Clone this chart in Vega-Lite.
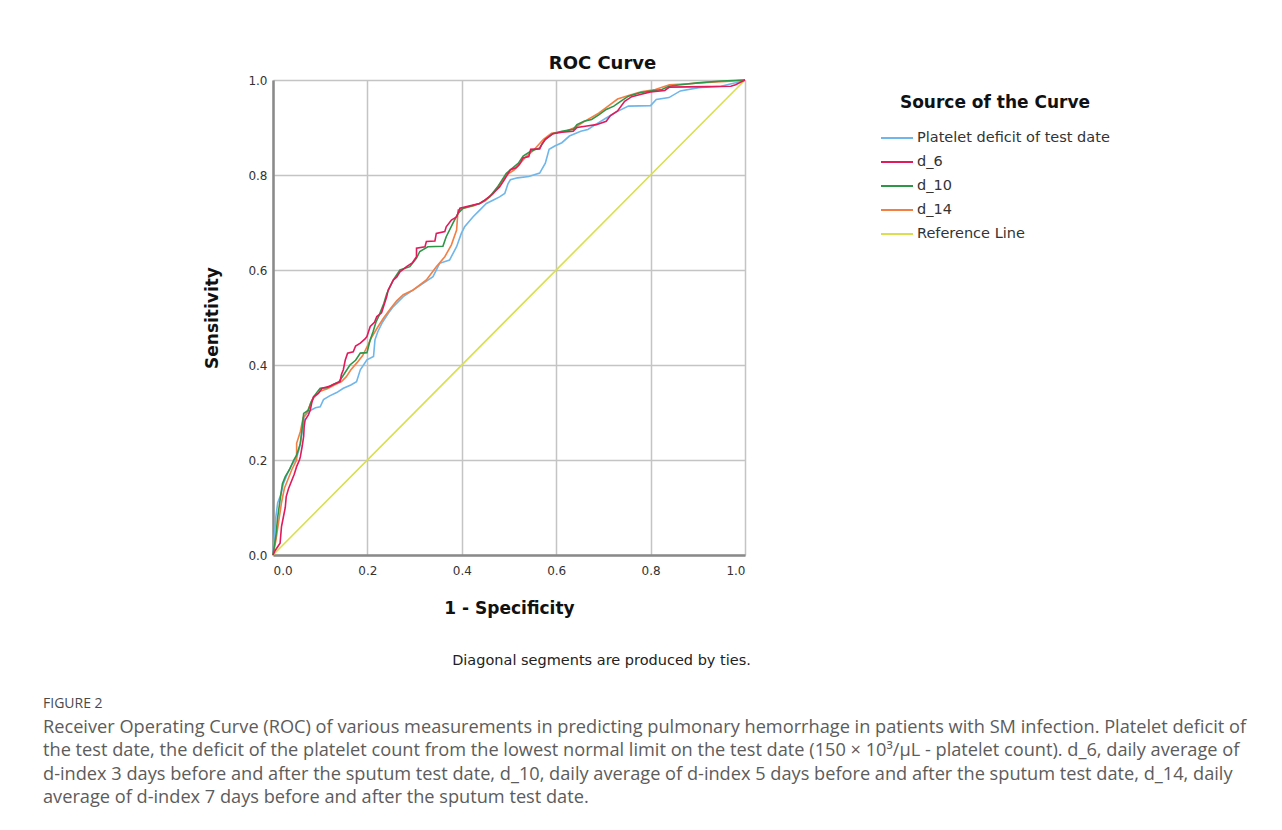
{
 "$schema": "https://vega.github.io/schema/vega-lite/v6.json",
 "width": 472, "height": 475,
 "autosize": {"type": "none"},
 "padding": {"left": 273, "top": 80, "right": 537, "bottom": 275},
 "background": "white",
 "datasets": {
  "ref": [{"x":0,"y":0},{"x":1,"y":1}],
  "plt": [{"x":0,"y":0},{"x":0.003,"y":0.04},{"x":0.006,"y":0.08},{"x":0.01,"y":0.11},{"x":0.016,"y":0.125},{"x":0.022,"y":0.15},{"x":0.03,"y":0.17},{"x":0.04,"y":0.19},{"x":0.05,"y":0.205},{"x":0.056,"y":0.225},{"x":0.062,"y":0.26},{"x":0.066,"y":0.29},{"x":0.075,"y":0.302},{"x":0.09,"y":0.31},{"x":0.1,"y":0.312},{"x":0.107,"y":0.327},{"x":0.12,"y":0.335},{"x":0.135,"y":0.342},{"x":0.149,"y":0.351},{"x":0.165,"y":0.358},{"x":0.177,"y":0.365},{"x":0.185,"y":0.39},{"x":0.199,"y":0.411},{"x":0.213,"y":0.418},{"x":0.216,"y":0.453},{"x":0.222,"y":0.47},{"x":0.232,"y":0.49},{"x":0.245,"y":0.51},{"x":0.255,"y":0.523},{"x":0.276,"y":0.544},{"x":0.297,"y":0.558},{"x":0.318,"y":0.572},{"x":0.339,"y":0.586},{"x":0.353,"y":0.614},{"x":0.374,"y":0.621},{"x":0.389,"y":0.649},{"x":0.399,"y":0.677},{"x":0.406,"y":0.691},{"x":0.424,"y":0.712},{"x":0.438,"y":0.726},{"x":0.452,"y":0.74},{"x":0.466,"y":0.747},{"x":0.48,"y":0.754},{"x":0.491,"y":0.761},{"x":0.498,"y":0.782},{"x":0.503,"y":0.79},{"x":0.518,"y":0.794},{"x":0.542,"y":0.797},{"x":0.565,"y":0.804},{"x":0.577,"y":0.825},{"x":0.585,"y":0.854},{"x":0.597,"y":0.861},{"x":0.612,"y":0.868},{"x":0.628,"y":0.882},{"x":0.652,"y":0.892},{"x":0.667,"y":0.896},{"x":0.683,"y":0.906},{"x":0.706,"y":0.92},{"x":0.73,"y":0.934},{"x":0.753,"y":0.945},{"x":0.8,"y":0.946},{"x":0.812,"y":0.959},{"x":0.839,"y":0.963},{"x":0.863,"y":0.977},{"x":0.902,"y":0.984},{"x":0.949,"y":0.987},{"x":0.98,"y":0.994},{"x":1,"y":1}],
  "d6": [{"x":0,"y":0},{"x":0.005,"y":0.01},{"x":0.015,"y":0.025},{"x":0.018,"y":0.06},{"x":0.022,"y":0.08},{"x":0.026,"y":0.1},{"x":0.028,"y":0.123},{"x":0.033,"y":0.14},{"x":0.037,"y":0.15},{"x":0.045,"y":0.17},{"x":0.05,"y":0.186},{"x":0.056,"y":0.2},{"x":0.058,"y":0.207},{"x":0.062,"y":0.23},{"x":0.065,"y":0.25},{"x":0.066,"y":0.27},{"x":0.068,"y":0.284},{"x":0.075,"y":0.295},{"x":0.079,"y":0.305},{"x":0.082,"y":0.32},{"x":0.086,"y":0.333},{"x":0.096,"y":0.34},{"x":0.104,"y":0.351},{"x":0.12,"y":0.355},{"x":0.13,"y":0.36},{"x":0.142,"y":0.365},{"x":0.145,"y":0.38},{"x":0.149,"y":0.39},{"x":0.153,"y":0.41},{"x":0.158,"y":0.425},{"x":0.17,"y":0.428},{"x":0.175,"y":0.44},{"x":0.185,"y":0.446},{"x":0.195,"y":0.455},{"x":0.199,"y":0.46},{"x":0.206,"y":0.481},{"x":0.215,"y":0.49},{"x":0.22,"y":0.502},{"x":0.23,"y":0.51},{"x":0.241,"y":0.544},{"x":0.244,"y":0.558},{"x":0.255,"y":0.579},{"x":0.262,"y":0.585},{"x":0.269,"y":0.596},{"x":0.283,"y":0.607},{"x":0.295,"y":0.615},{"x":0.304,"y":0.628},{"x":0.3041,"y":0.646},{"x":0.322,"y":0.649},{"x":0.325,"y":0.66},{"x":0.343,"y":0.661},{"x":0.346,"y":0.677},{"x":0.364,"y":0.681},{"x":0.367,"y":0.691},{"x":0.378,"y":0.705},{"x":0.389,"y":0.712},{"x":0.396,"y":0.73},{"x":0.424,"y":0.737},{"x":0.438,"y":0.74},{"x":0.449,"y":0.747},{"x":0.466,"y":0.761},{"x":0.48,"y":0.775},{"x":0.49,"y":0.79},{"x":0.498,"y":0.803},{"x":0.503,"y":0.811},{"x":0.515,"y":0.815},{"x":0.522,"y":0.822},{"x":0.53,"y":0.836},{"x":0.542,"y":0.839},{"x":0.546,"y":0.854},{"x":0.565,"y":0.855},{"x":0.569,"y":0.864},{"x":0.577,"y":0.875},{"x":0.593,"y":0.887},{"x":0.612,"y":0.89},{"x":0.636,"y":0.892},{"x":0.644,"y":0.9},{"x":0.665,"y":0.903},{"x":0.685,"y":0.906},{"x":0.706,"y":0.913},{"x":0.715,"y":0.925},{"x":0.73,"y":0.935},{"x":0.745,"y":0.955},{"x":0.76,"y":0.965},{"x":0.78,"y":0.97},{"x":0.8,"y":0.975},{"x":0.83,"y":0.978},{"x":0.84,"y":0.985},{"x":0.92,"y":0.986},{"x":0.97,"y":0.987},{"x":0.98,"y":0.99},{"x":1,"y":1}],
  "d10": [{"x":0,"y":0},{"x":0.006,"y":0.04},{"x":0.01,"y":0.08},{"x":0.016,"y":0.123},{"x":0.02,"y":0.15},{"x":0.026,"y":0.165},{"x":0.035,"y":0.18},{"x":0.044,"y":0.2},{"x":0.05,"y":0.21},{"x":0.058,"y":0.235},{"x":0.062,"y":0.27},{"x":0.065,"y":0.298},{"x":0.075,"y":0.305},{"x":0.08,"y":0.32},{"x":0.086,"y":0.333},{"x":0.095,"y":0.345},{"x":0.1,"y":0.351},{"x":0.114,"y":0.352},{"x":0.125,"y":0.358},{"x":0.14,"y":0.365},{"x":0.15,"y":0.38},{"x":0.163,"y":0.4},{"x":0.175,"y":0.41},{"x":0.185,"y":0.425},{"x":0.199,"y":0.426},{"x":0.206,"y":0.453},{"x":0.212,"y":0.47},{"x":0.218,"y":0.49},{"x":0.225,"y":0.505},{"x":0.235,"y":0.53},{"x":0.241,"y":0.55},{"x":0.255,"y":0.579},{"x":0.269,"y":0.6},{"x":0.29,"y":0.607},{"x":0.304,"y":0.625},{"x":0.311,"y":0.639},{"x":0.328,"y":0.649},{"x":0.36,"y":0.65},{"x":0.367,"y":0.67},{"x":0.381,"y":0.698},{"x":0.392,"y":0.719},{"x":0.403,"y":0.73},{"x":0.438,"y":0.74},{"x":0.459,"y":0.754},{"x":0.476,"y":0.775},{"x":0.494,"y":0.803},{"x":0.503,"y":0.811},{"x":0.52,"y":0.825},{"x":0.53,"y":0.84},{"x":0.546,"y":0.85},{"x":0.565,"y":0.857},{"x":0.577,"y":0.875},{"x":0.593,"y":0.887},{"x":0.612,"y":0.892},{"x":0.636,"y":0.896},{"x":0.644,"y":0.906},{"x":0.659,"y":0.913},{"x":0.675,"y":0.917},{"x":0.691,"y":0.927},{"x":0.706,"y":0.938},{"x":0.722,"y":0.945},{"x":0.738,"y":0.956},{"x":0.753,"y":0.966},{"x":0.777,"y":0.973},{"x":0.8,"y":0.977},{"x":0.824,"y":0.98},{"x":0.839,"y":0.987},{"x":0.863,"y":0.99},{"x":0.9,"y":0.994},{"x":0.95,"y":0.998},{"x":1,"y":1}],
  "d14": [{"x":0,"y":0},{"x":0.006,"y":0.03},{"x":0.012,"y":0.07},{"x":0.018,"y":0.11},{"x":0.024,"y":0.14},{"x":0.032,"y":0.16},{"x":0.04,"y":0.18},{"x":0.05,"y":0.2},{"x":0.0501,"y":0.235},{"x":0.058,"y":0.26},{"x":0.064,"y":0.29},{"x":0.072,"y":0.3},{"x":0.082,"y":0.325},{"x":0.09,"y":0.335},{"x":0.1,"y":0.345},{"x":0.115,"y":0.35},{"x":0.13,"y":0.358},{"x":0.145,"y":0.365},{"x":0.155,"y":0.375},{"x":0.165,"y":0.39},{"x":0.178,"y":0.405},{"x":0.19,"y":0.42},{"x":0.2,"y":0.44},{"x":0.21,"y":0.46},{"x":0.222,"y":0.48},{"x":0.235,"y":0.5},{"x":0.25,"y":0.52},{"x":0.262,"y":0.535},{"x":0.276,"y":0.548},{"x":0.297,"y":0.558},{"x":0.325,"y":0.579},{"x":0.346,"y":0.607},{"x":0.364,"y":0.628},{"x":0.378,"y":0.653},{"x":0.389,"y":0.684},{"x":0.392,"y":0.726},{"x":0.403,"y":0.73},{"x":0.424,"y":0.735},{"x":0.449,"y":0.745},{"x":0.466,"y":0.76},{"x":0.48,"y":0.78},{"x":0.494,"y":0.8},{"x":0.51,"y":0.81},{"x":0.52,"y":0.82},{"x":0.535,"y":0.838},{"x":0.55,"y":0.85},{"x":0.573,"y":0.875},{"x":0.59,"y":0.888},{"x":0.62,"y":0.892},{"x":0.64,"y":0.9},{"x":0.66,"y":0.913},{"x":0.69,"y":0.93},{"x":0.71,"y":0.945},{"x":0.73,"y":0.96},{"x":0.755,"y":0.968},{"x":0.78,"y":0.975},{"x":0.81,"y":0.98},{"x":0.84,"y":0.99},{"x":0.88,"y":0.992},{"x":0.92,"y":0.995},{"x":0.96,"y":0.997},{"x":1,"y":1}]
 },
 "title": {
  "text": "FIGURE 2",
  "subtitle": [
   "Receiver Operating Curve (ROC) of various measurements in predicting pulmonary hemorrhage in patients with SM infection. Platelet deficit of",
   "the test date, the deficit of the platelet count from the lowest normal limit on the test date (150 × 10³/μL - platelet count). d_6, daily average of",
   "d-index 3 days before and after the sputum test date, d_10, daily average of d-index 5 days before and after the sputum test date, d_14, daily",
   "average of d-index 7 days before and after the sputum test date."
  ],
  "orient": "bottom", "anchor": "start", "frame": "group", "dx": -230, "offset": 30,
  "font": "Open Sans", "fontSize": 14, "fontWeight": "normal", "color": "#4a4a4a",
  "subtitleFont": "Open Sans", "subtitleFontSize": 18.2, "subtitleColor": "#5c5c5c",
  "subtitleLineHeight": 23.5, "subtitlePadding": 8
 },
 "encoding": {
  "y": {"field": "y", "type": "quantitative",
   "scale": {"domain": [0, 1], "nice": false, "zero": false},
   "axis": {"title": "Sensitivity", "values": [0, 0.2, 0.4, 0.6, 0.8, 1], "format": ".1f",
    "grid": true, "gridColor": "#c4c4c4", "gridWidth": 1.5,
    "domainColor": "#8a8a8a", "domainWidth": 2.5, "ticks": false,
    "labelPadding": 6, "labelFontSize": 12, "labelColor": "#333333",
    "titleFontSize": 17, "titleFontWeight": "bold", "titleColor": "#111111", "titlePadding": 26}},
  "order": {"field": "x", "type": "quantitative"}
 },
 "layer": [
  {
   "data": {"name": "ref"},
   "mark": {"type": "line", "strokeWidth": 1.6},
   "encoding": {
    "x": {"field": "x", "type": "quantitative", "scale": {"domain": [0, 1], "nice": false, "zero": false},
     "axis": {"orient": "top", "title": "ROC Curve", "labels": false, "ticks": false, "domain": false, "grid": false,
      "titleX": 329, "titleY": -17, "titleBaseline": "middle", "titleFontSize": 18, "titleFontWeight": "bold", "titleColor": "#111111"}},
    "color": {"datum": "Reference Line", "type": "nominal",
     "scale": {"domain": ["Platelet deficit of test date", "d_6", "d_10", "d_14", "Reference Line"],
      "range": ["#6fb6ea", "#e2195b", "#2f9547", "#f37f43", "#d9df4e"]},
     "legend": {"title": "Source of the Curve"}}
   }
  },
  {
   "data": {"name": "plt"},
   "mark": {"type": "line", "strokeWidth": 1.6},
   "encoding": {
    "x": {"field": "x", "type": "quantitative",
     "axis": {"orient": "bottom", "title": "Diagonal segments are produced by ties.", "labels": false, "ticks": false, "domain": false, "grid": false,
      "titleX": 328, "titleY": 105, "titleBaseline": "middle", "titleFontSize": 14.5, "titleFontWeight": "normal", "titleColor": "#222222"}},
    "color": {"datum": "Platelet deficit of test date", "type": "nominal"}
   }
  },
  {
   "data": {"name": "d14"},
   "mark": {"type": "line", "strokeWidth": 1.6},
   "encoding": {
    "x": {"field": "x", "type": "quantitative", "axis": null},
    "color": {"datum": "d_14", "type": "nominal"}
   }
  },
  {
   "data": {"name": "d10"},
   "mark": {"type": "line", "strokeWidth": 1.6},
   "encoding": {
    "x": {"field": "x", "type": "quantitative", "axis": null},
    "color": {"datum": "d_10", "type": "nominal"}
   }
  },
  {
   "data": {"name": "d6"},
   "mark": {"type": "line", "strokeWidth": 1.6},
   "encoding": {
    "x": {"field": "x", "type": "quantitative",
     "axis": {"title": "1 - Specificity", "values": [0, 0.2, 0.4, 0.6, 0.8, 1], "format": ".1f",
      "grid": true, "gridColor": "#c4c4c4", "gridWidth": 1.5,
      "domainColor": "#8a8a8a", "domainWidth": 2.5, "ticks": false,
      "labelPadding": 10, "labelFontSize": 12, "labelColor": "#333333",
      "titleFontSize": 17, "titleFontWeight": "bold", "titleColor": "#111111", "titlePadding": 24}},
    "color": {"datum": "d_6", "type": "nominal"}
   }
  }
 ],
 "resolve": {"axis": {"x": "independent"}},
 "config": {
  "font": "DejaVu Sans",
  "view": {"stroke": null},
  "axis": {"labelFont": "DejaVu Sans", "titleFont": "DejaVu Sans"},
  "legend": {
   "orient": "none", "legendX": 607, "legendY": 15,
   "titleFont": "DejaVu Sans", "titleFontSize": 17, "titleFontWeight": "bold", "titleColor": "#111111",
   "titleAnchor": "middle", "titlePadding": 9, "titleLimit": 400,
   "labelFont": "DejaVu Sans", "labelFontSize": 14.5, "labelColor": "#333333", "labelLimit": 400,
   "symbolType": "stroke", "symbolSize": 1024, "symbolStrokeWidth": 2, "labelOffset": 3,
   "rowPadding": -7, "padding": 0
  }
 }
}
